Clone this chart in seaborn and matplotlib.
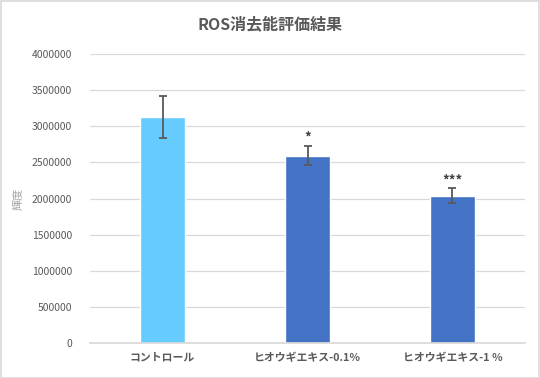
import numpy as np
import pandas as pd
import seaborn as sns
import matplotlib.pyplot as plt
from matplotlib.patches import Rectangle

# データ
grupos = ['コントロール', 'ヒオウギエキス-0.1％', 'ヒオウギエキス-1 ％']
medias = [3125000, 2595000, 2040000]
erros = [290000, 136000, 103000]
signif = ['', '*', '***']
cores = ['#66CCFF', '#4472C4', '#4472C4']

df = pd.DataFrame({'grupo': grupos, 'valor': medias})

sns.set_theme(style='white')
plt.rcParams['font.family'] = ['Noto Sans CJK JP', 'DejaVu Sans']

fig = plt.figure(figsize=(5.4, 3.78), dpi=100)
ax = fig.add_axes([0.1667, 0.0926, 0.8055, 0.7644])

sns.barplot(data=df, x='grupo', y='valor', hue='grupo', palette=cores,
            width=0.31, legend=False, ax=ax, errorbar=None, saturation=1)
ax.errorbar(np.arange(len(grupos)), medias, yerr=erros, fmt='none',
            ecolor='#595959', elinewidth=1.3, capsize=3, capthick=1.3)

for i, s in enumerate(signif):
    if s:
        ax.annotate(s, (i, medias[i] + erros[i]), xytext=(0, 0.5),
                    textcoords='offset points', ha='center', va='bottom',
                    fontsize=9.5, color='#404040', fontweight='bold')

ax.set_ylim(0, 4000000)
ax.set_xlim(-0.5, 2.5)
ax.set_yticks(np.arange(0, 4000001, 500000))
ax.set_yticklabels([str(v) for v in range(0, 4000001, 500000)])
ax.yaxis.grid(True, color='#D9D9D9', linewidth=0.9)
ax.set_axisbelow(True)
for s in ['top', 'right', 'left']:
    ax.spines[s].set_visible(False)
ax.spines['bottom'].set_color('#D9D9D9')
ax.tick_params(axis='y', labelsize=7.5, colors='#595959', length=0, pad=13)
ax.tick_params(axis='x', labelsize=7.8, colors='#595959', length=0, pad=7)
for lb in ax.get_xticklabels():
    lb.set_fontweight('bold')
ax.set_xlabel('')
ax.set_ylabel('輝度', fontsize=8, color='#A6A6A6', labelpad=6)

fig.text(0.5, 0.935, 'ROS消去能評価結果', ha='center', va='center',
         fontsize=11.5, fontweight='bold', color='#595959')
fig.patches.append(Rectangle((0.001, 0.001), 0.997, 0.997, transform=fig.transFigure,
                             fill=False, edgecolor='#D9D9D9', linewidth=1.2))

plt.savefig('out.png', dpi=100)
